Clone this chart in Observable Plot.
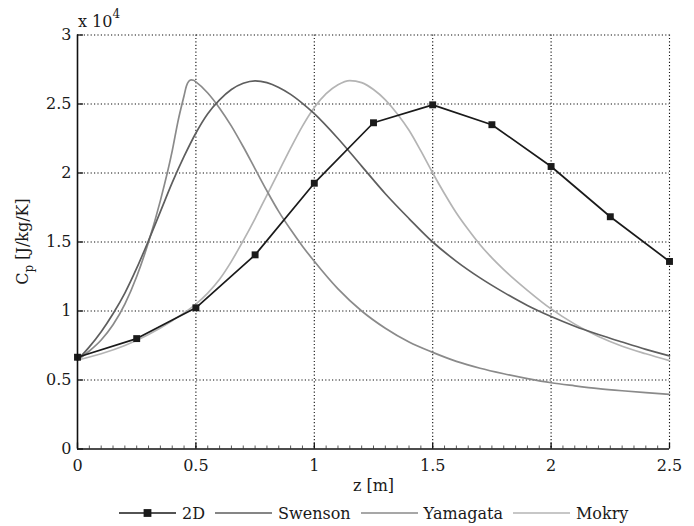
<!DOCTYPE html>
<html>
<head>
<meta charset="utf-8">
<script src="https://cdn.jsdelivr.net/npm/d3@7"></script>
<script src="https://cdn.jsdelivr.net/npm/@observablehq/plot@0.6"></script>
<style>
  body { margin: 0; background: #fff; }
  #chart svg { display: block; }
  #legend { display: flex; align-items: center; height: 26px; padding-left: 119px;
            font-family: "DejaVu Serif", serif; font-size: 16px; color: #1a1a1a; }
  #legend .item { display: flex; align-items: center; margin-right: 10px; }
  #legend svg { display: block; margin-right: 6px; }
</style>
</head>
<body>
<div id="chart"></div>
<div id="legend"></div>
<script>
// Specific heat Cp [J/kg/K] along the channel height z [m]

// 2D simulation, sampled every 0.25 m
const z2D  = [0, 0.25, 0.5, 0.75, 1.0, 1.25, 1.5, 1.75, 2.0, 2.25, 2.5];
const cp2D = [6650, 8000, 10230, 14070, 19260, 23640, 24940, 23500, 20470, 16830, 13590];

// Swenson correlation
const zSwenson  = [0, 0.05, 0.1, 0.15, 0.2, 0.25, 0.3, 0.35, 0.4, 0.45, 0.5, 0.55, 0.6, 0.65, 0.7, 0.75, 0.8, 0.85, 0.9, 0.95, 1.0, 1.1, 1.2, 1.3, 1.4, 1.5, 1.6, 1.7, 1.8, 1.9, 2.0, 2.1, 2.2, 2.3, 2.4, 2.5];
const cpSwenson = [6450, 7400, 8500, 9800, 11300, 13100, 15100, 17200, 19300, 21200, 22900, 24300, 25300, 26050, 26500, 26680, 26550, 26200, 25700, 25050, 24300, 22500, 20500, 18500, 16700, 15000, 13600, 12400, 11350, 10400, 9600, 8900, 8300, 7750, 7220, 6750];

// Yamagata correlation
const zYamagata  = [0, 0.05, 0.1, 0.15, 0.2, 0.25, 0.3, 0.35, 0.4, 0.425, 0.45, 0.46, 0.47, 0.48, 0.49, 0.5, 0.55, 0.6, 0.65, 0.7, 0.75, 0.8, 0.85, 0.9, 0.95, 1.0, 1.1, 1.2, 1.3, 1.4, 1.5, 1.6, 1.7, 1.8, 1.9, 2.0, 2.1, 2.2, 2.3, 2.4, 2.5];
const cpYamagata = [6450, 7100, 7900, 9000, 10500, 12500, 15000, 18000, 21600, 23800, 25600, 26300, 26650, 26750, 26720, 26600, 25800, 24700, 23400, 21900, 20300, 18700, 17200, 15900, 14700, 13600, 11600, 10000, 8750, 7750, 7000, 6350, 5850, 5450, 5100, 4800, 4580, 4380, 4220, 4080, 3960];

// Mokry correlation
const zMokry  = [0, 0.1, 0.2, 0.3, 0.4, 0.5, 0.55, 0.6, 0.65, 0.7, 0.75, 0.8, 0.85, 0.9, 0.95, 1.0, 1.05, 1.1, 1.15, 1.2, 1.25, 1.3, 1.35, 1.4, 1.45, 1.5, 1.55, 1.6, 1.65, 1.7, 1.75, 1.8, 1.9, 2.0, 2.1, 2.2, 2.3, 2.4, 2.5];
const cpMokry = [6450, 6900, 7500, 8300, 9300, 10500, 11300, 12300, 13600, 15100, 16700, 18400, 20100, 21800, 23400, 24750, 25750, 26400, 26700, 26550, 26050, 25300, 24300, 23100, 21600, 20000, 18500, 17100, 15900, 14800, 13850, 13000, 11500, 10150, 9050, 8150, 7450, 6900, 6400];

// Axis ticks
const xTicks = [0, 0.5, 1, 1.5, 2, 2.5];
const yTicks = [0, 5000, 10000, 15000, 20000, 25000, 30000];

const series = [
  {name: "2D",       z: z2D,       cp: cp2D,       color: "#1a1a1a", marker: true},
  {name: "Swenson",  z: zSwenson,  cp: cpSwenson,  color: "#5e5e5e"},
  {name: "Yamagata", z: zYamagata, cp: cpYamagata, color: "#8a8a8a"},
  {name: "Mokry",    z: zMokry,    cp: cpMokry,    color: "#b4b4b4"}
];
const rows = s => s.z.map((z, i) => ({z, cp: s.cp[i]}));

const W = 694, H = 500;
const mL = 77, mR = 25, mT = 34.5, mB = 51.5;
const plotW = W - mL - mR, plotH = H - mT - mB;
const minorX = d3.range(0, 2.5001, 0.05);
const font = "DejaVu Serif";
const fs = 16;
const ink = "#1a1a1a";

const lineMarks = series.slice(1).reverse().map(s =>
  Plot.line(rows(s), {x: "z", y: "cp", stroke: s.color, strokeWidth: 1.7, curve: "monotone-x"})
);

const chart = Plot.plot({
  width: W, height: H,
  marginLeft: mL, marginRight: mR, marginTop: mT, marginBottom: mB,
  style: {fontFamily: font, fontSize: fs + "px", color: ink, background: "#fff"},
  x: {domain: [0, 2.5]},
  y: {domain: [0, 30000]},
  marks: [
    Plot.gridX(xTicks.filter(d => d > 0), {stroke: "#111", strokeOpacity: 1, strokeWidth: 1.1, strokeDasharray: "1.2,2.2"}),
    Plot.gridY(yTicks.filter(d => d > 0), {stroke: "#111", strokeOpacity: 1, strokeWidth: 1.1, strokeDasharray: "1.2,2.2"}),
    ...lineMarks,
    Plot.line(rows(series[0]), {x: "z", y: "cp", stroke: series[0].color, strokeWidth: 1.7}),
    Plot.dot(rows(series[0]), {x: "z", y: "cp", symbol: "square", r: 3.9, fill: series[0].color, stroke: "none"}),
    Plot.ruleX([0], {stroke: "#111", strokeWidth: 1.6}),
    Plot.ruleY([0], {stroke: "#111", strokeWidth: 1.6}),
    Plot.tickX(xTicks, {stroke: "#111", strokeWidth: 1.3, insetTop: plotH - 6}),
    Plot.tickX(minorX, {stroke: "#111", strokeWidth: 0.7, insetTop: plotH - 3}),
    Plot.tickY(yTicks, {stroke: "#111", strokeWidth: 1.3, insetRight: plotW - 6}),
    Plot.axisX(xTicks, {tickSize: 0, tickPadding: 11, label: null, fontFamily: font, fontSize: fs, fill: ink, tickFormat: d => String(d)}),
    Plot.axisY(yTicks, {tickSize: 0, tickPadding: 6, label: null, fontFamily: font, fontSize: fs, fill: ink, tickFormat: d => String(d / 1e4)}),
    Plot.text(["z [m]"], {frameAnchor: "bottom", dy: 42, fontFamily: font, fontSize: fs, fill: ink})
  ]
});
document.getElementById("chart").appendChild(chart);

// Y-axis title with subscript, and the exponent note over the axis
const svg = d3.select(chart);
const ylab = svg.append("text")
  .attr("transform", `translate(28,${mT + plotH / 2}) rotate(-90)`)
  .attr("text-anchor", "middle")
  .attr("font-family", font).attr("font-size", fs).attr("fill", ink);
ylab.append("tspan").text("C");
ylab.append("tspan").attr("font-size", 12).attr("dy", 5).text("p");
ylab.append("tspan").attr("dy", -5).text(" [J/kg/K]");

const expo = svg.append("text")
  .attr("x", mL + 1).attr("y", 27)
  .attr("text-anchor", "start")
  .attr("font-family", font).attr("font-size", fs).attr("fill", ink);
expo.append("tspan").text("x 10");
expo.append("tspan").attr("font-size", 12).attr("dy", -9).text("4");

// Legend below the plot
const legend = d3.select("#legend");
series.forEach(s => {
  const item = legend.append("div").attr("class", "item");
  const sw = item.append("svg").attr("width", 57).attr("height", 12);
  sw.append("line").attr("x1", 0).attr("x2", 57).attr("y1", 6).attr("y2", 6)
    .attr("stroke", s.color).attr("stroke-width", 1.7);
  if (s.marker) sw.append("rect").attr("x", 24.6).attr("y", 2.1).attr("width", 7.8).attr("height", 7.8).attr("fill", s.color);
  item.append("span").text(s.name);
});
</script>
</body>
</html>
